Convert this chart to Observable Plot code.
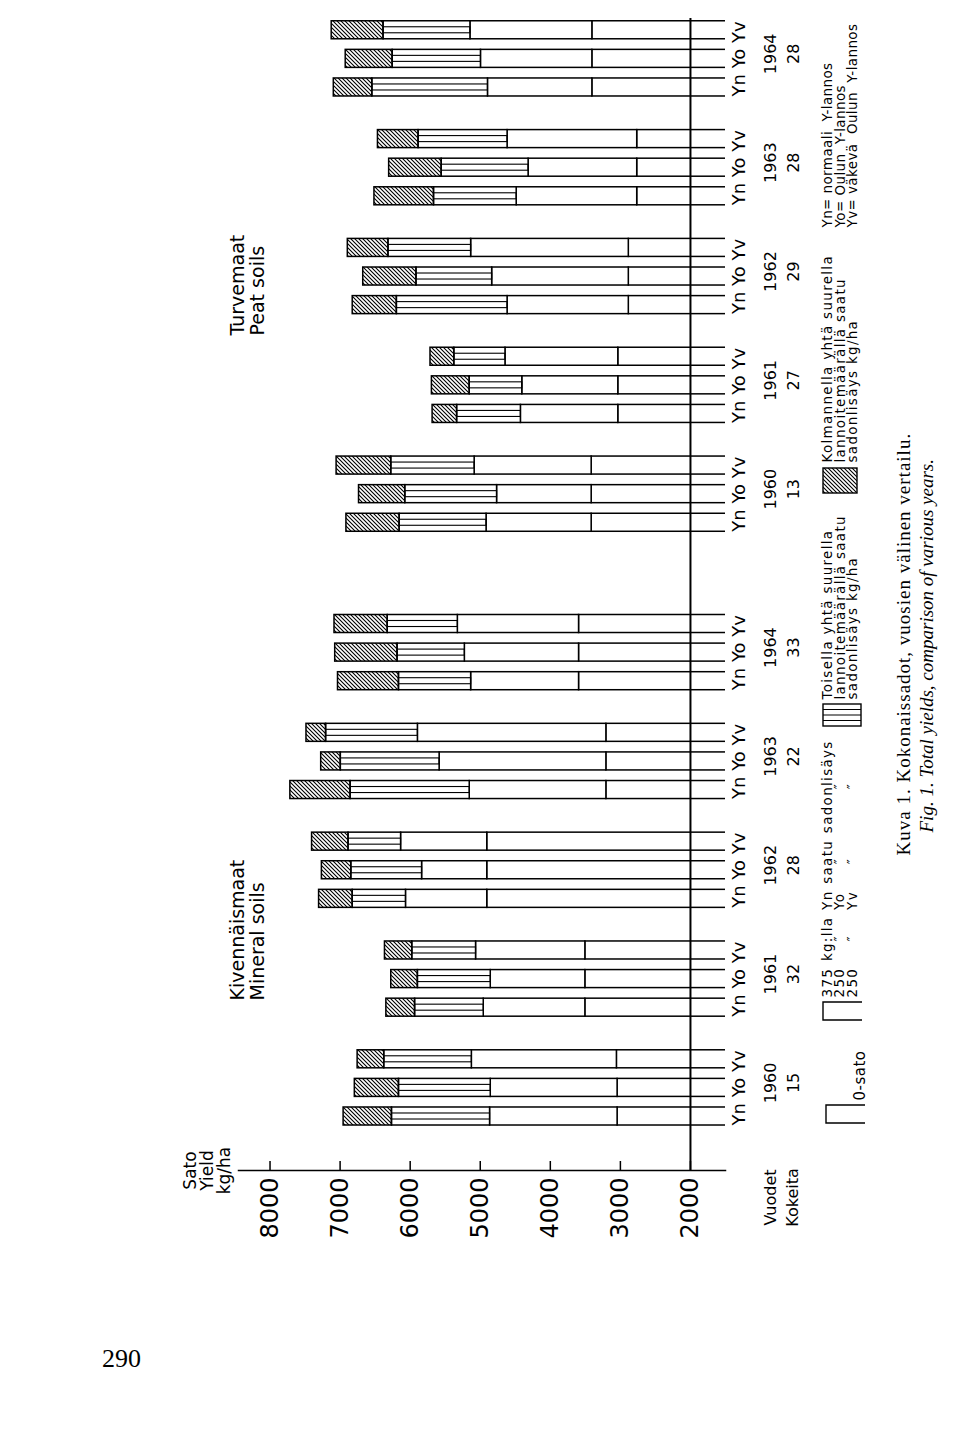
<!DOCTYPE html>
<html><head><meta charset="utf-8">
<script src="https://cdn.jsdelivr.net/npm/d3@7"></script>
<script src="https://cdn.jsdelivr.net/npm/@observablehq/plot@0.6"></script>
<style>
html,body{margin:0;padding:0;background:#fff;}
#chart svg{display:block;background:#fff;}
</style></head><body><div id="chart"></div>
<script>
// ---- data (kg/ha): cumulative ends of each segment, year-major, fertiliser-minor (Yn, Yo, Yv)
const years = [1960, 1961, 1962, 1963, 1964];
const ferts = ["Yn", "Yo", "Yv"];
const mineralTrials = [15, 32, 28, 22, 33];
const peatTrials = [13, 27, 29, 28, 28];
const yieldTicks = [2000, 3000, 4000, 5000, 6000, 7000, 8000];

const minOsato  = [3040,3040,3050, 3500,3500,3500, 4900,4900,4900, 3200,3200,3200, 3590,3590,3590];
const minFirst  = [4860,4850,5120, 4950,4850,5060, 6060,5830,6130, 5150,5580,5890, 5130,5220,5320];
const minSecond = [6260,6160,6370, 5930,5890,5970, 6820,6840,6880, 6850,6990,7200, 6160,6180,6320];
const minThird  = [6950,6790,6750, 6340,6270,6360, 7300,7260,7400, 7710,7270,7480, 7030,7070,7080];

const peatOsato  = [3410,3410,3410, 3030,3030,3030, 2880,2880,2880, 2760,2760,2760, 3400,3400,3400];
const peatFirst  = [4910,4760,5080, 4420,4400,4640, 4610,4830,5130, 4480,4310,4610, 4890,4990,5140];
const peatSecond = [6150,6070,6270, 5330,5150,5370, 6190,5910,6310, 5660,5550,5880, 6540,6250,6380];
const peatThird  = [6910,6730,7050, 5680,5690,5710, 6820,6670,6890, 6510,6300,6460, 7090,6920,7120];

// ---- layout
const W = 960, H = 1438;
const ML = 238, MR = 235, MT = 18, MB = 268;
const L = {soilShift: 20.76, yearStep: 3.805, half: 0.315};
const FONT = "DejaVu Sans";
const SERIF = "Liberation Serif";
const LS = 1.3; // legend letter spacing (px)

const series = [
  {soil: 0, o: minOsato, a: minFirst, b: minSecond, c: minThird, trials: mineralTrials},
  {soil: 1, o: peatOsato, a: peatFirst, b: peatSecond, c: peatThird, trials: peatTrials}
];
const bars = [], groups = [];
series.forEach(({soil, o, a, b, c, trials}) => years.forEach((yr, i) => {
  groups.push({soil, year: yr, trials: trials[i], pos: soil * L.soilShift + i * L.yearStep + 1});
  ferts.forEach((f, j) => {
    const k = i * 3 + j;
    bars.push({soil, year: yr, fert: f, pos: soil * L.soilShift + i * L.yearStep + j,
               zero: 0, o: o[k], a: a[k], b: b[k], c: c[k]});
  });
}));
const yb = d => d.pos - L.half, yt = d => d.pos + L.half;

// letter spacing to apply after rendering, keyed by the text content
const spacing = new Map();
// annotation helper: screen position relative to the frame's top-left corner
function ann(text, x, y, o = {}, ls = 0) {
  if (ls) spacing.set(text.replace(/\n/g, ""), ls);
  return Plot.text([text], {text: d => d, frameAnchor: "top-left", dx: x - ML, dy: y - MT,
    rotate: -90, fontFamily: FONT, fill: "black", textAnchor: "middle", lineAnchor: "middle", ...o});
}
const ctx = document.createElement("canvas").getContext("2d");
function tw(s, size, fam = FONT, ls = 0) { ctx.font = `${size}px "${fam}"`; return ctx.measureText(s).width + ls * s.length; }

// legend block "375 kg:lla Yn saatu sadonlisäys" built as columns
const LF = 13.5, LH = 12.5;
const cols = [["375", "250", "250"], ["kg:lla", "\u2033", "\u2033"], ["Yn", "Yo", "Yv"], ["saatu", "\u2033", "\u2033"], ["sadonlisäys", "\u2033", "\u2033"]];
const legendMarks = [];
{
  const startY = 997, x0 = 827;
  let off = 0;
  cols.forEach(col => {
    const w = tw(col[0], LF, FONT, LS);
    col.forEach((t, li) => {
      const ditto = t === "\u2033";
      legendMarks.push(ann(t, x0 + li * LH, startY - (ditto ? off + w / 2 : off),
        {fontSize: LF, textAnchor: ditto ? "middle" : "start"}, ditto ? 0 : LS));
    });
    off += w + tw(" ", LF, FONT, LS) * 1.2;
  });
}
const legendText = {fontSize: LF, lineHeight: LH / LF, textAnchor: "start"};

const svg = Plot.plot({
  width: W, height: H,
  marginLeft: ML, marginRight: MR, marginTop: MT, marginBottom: MB,
  x: {domain: [8450, 1500]},
  y: {type: "linear", domain: [0, 38], range: [1116, 1116 - 38 * 28.6], axis: null},
  style: {fontFamily: FONT, background: "white", color: "black"},
  marks: [
    Plot.rect(bars, {x1: "zero", x2: "o", y1: yb, y2: yt, fill: "white", stroke: "black", strokeWidth: 1.5, clip: true}),
    Plot.rect(bars, {x1: "o", x2: "a", y1: yb, y2: yt, fill: "white", stroke: "black", strokeWidth: 1.5}),
    Plot.rect(bars, {x1: "a", x2: "b", y1: yb, y2: yt, fill: "white", stroke: "black", strokeWidth: 1.5}),
    Plot.rect(bars, {x1: "a", x2: "b", y1: yb, y2: yt, fill: "none", stroke: "black", strokeWidth: 1.1, insetTop: 6, insetBottom: 6}),
    Plot.rect(bars, {x1: "b", x2: "c", y1: yb, y2: yt, fill: "url(#hatch)", stroke: "black", strokeWidth: 1.5}),
    Plot.ruleX([2000], {stroke: "black", strokeWidth: 2}),
    Plot.axisX({anchor: "bottom", ticks: yieldTicks, tickSize: 9, dy: -9, fill: "none", label: null, strokeWidth: 1.5}),
    Plot.axisX({anchor: "bottom", ticks: yieldTicks, tickSize: 0, tickPadding: 7, tickRotate: -90,
      tickFormat: d => String(d), fontSize: 24, fontFamily: FONT, label: null, fill: "black"}),
    Plot.frame({anchor: "bottom", strokeWidth: 1.5}),
    // row labels beside the baseline
    Plot.text(groups, {y: "pos", text: () => ferts.join(" "), frameAnchor: "right", dx: 14, rotate: -90,
      textAnchor: "middle", lineAnchor: "middle", fontSize: 18, fontFamily: FONT}),
    Plot.text(groups, {y: "pos", text: d => String(d.year), frameAnchor: "right", dx: 45, dy: -5, rotate: -90,
      textAnchor: "middle", lineAnchor: "middle", fontSize: 16, fontFamily: FONT}),
    Plot.text(groups, {y: "pos", text: d => String(d.trials), frameAnchor: "right", dx: 68, dy: -5, rotate: -90,
      textAnchor: "middle", lineAnchor: "middle", fontSize: 16, fontFamily: FONT}),
    // annotations
    ann("Sato\nYield\nkg/ha", 207, 1170, {fontSize: 17, lineHeight: 1.0}),
    ann("Vuodet", 770, 1197, {fontSize: 16}),
    ann("Kokeita", 792, 1197, {fontSize: 16}),
    ann("Kivennäismaat\nMineral soils", 247, 1000, {fontSize: 19, lineHeight: 1.05, textAnchor: "start"}),
    ann("Turvemaat\nPeat soils", 247, 335, {fontSize: 19, lineHeight: 1.05, textAnchor: "start"}),
    ann("Yn= normaali  Y-lannos\nYo= Oulun  Y-lannos\nYv= väkevä  Oulun  Y-lannos", 840, 227, legendText, 0.4),
    ann("Kolmannella yhtä suurella\nlannoitemäärällä saatu\nsadonlisäys kg/ha", 840, 462, legendText, LS),
    ann("Toisella yhtä suurella\nlannoitemäärällä saatu\nsadonlisäys kg/ha", 840, 699, legendText, LS),
    ...legendMarks,
    ann("0-sato", 860, 1100, {fontSize: 15, textAnchor: "start"}, 0.5),
    ann("Kuva 1. Kokonaissadot, vuosien välinen vertailu.", 903, 855, {fontSize: 19, fontFamily: SERIF, textAnchor: "start"}, 1.0),
    ann("Fig. 1. Total yields, comparison of various years.", 926, 832, {fontSize: 19, fontFamily: SERIF, fontStyle: "italic", textAnchor: "start"}),
    ann("290", 121, 1366, {fontSize: 26, fontFamily: SERIF, rotate: 0, lineAnchor: "bottom"})
  ]
});

// letter spacing, hatch pattern, legend swatches
const s = d3.select(svg);
s.selectAll("text").each(function() {
  const ls = spacing.get(this.textContent);
  if (ls) this.setAttribute("letter-spacing", ls + "px");
});
const defs = s.insert("defs", ":first-child");
defs.append("pattern").attr("id", "hatch").attr("patternUnits", "userSpaceOnUse")
  .attr("width", 4).attr("height", 4)
  .append("path").attr("d", "M-1,-1L5,5M-1,3L1,5M3,-1L5,1")
  .attr("stroke", "black").attr("stroke-width", 1.1).attr("fill", "none");
const sw = s.append("g").attr("stroke", "black").attr("stroke-width", 1.4).attr("fill", "none");
// 0-sato swatch (open bar end)
sw.append("path").attr("d", "M865,1105H826V1123H865");
// first increment swatch
sw.append("path").attr("d", "M862,1002H823V1020H862");
// second increment swatch with lines
sw.append("rect").attr("x", 823).attr("y", 704).attr("width", 38).attr("height", 22).attr("fill", "white");
[709.5, 715, 720.5].forEach(y => sw.append("line").attr("x1", 823).attr("x2", 861).attr("y1", y).attr("y2", y).attr("stroke-width", 1.1));
// third increment swatch (hatched)
sw.append("rect").attr("x", 823).attr("y", 468).attr("width", 34).attr("height", 25).attr("fill", "url(#hatch)");

document.getElementById("chart").append(svg);
</script>
</body></html>
